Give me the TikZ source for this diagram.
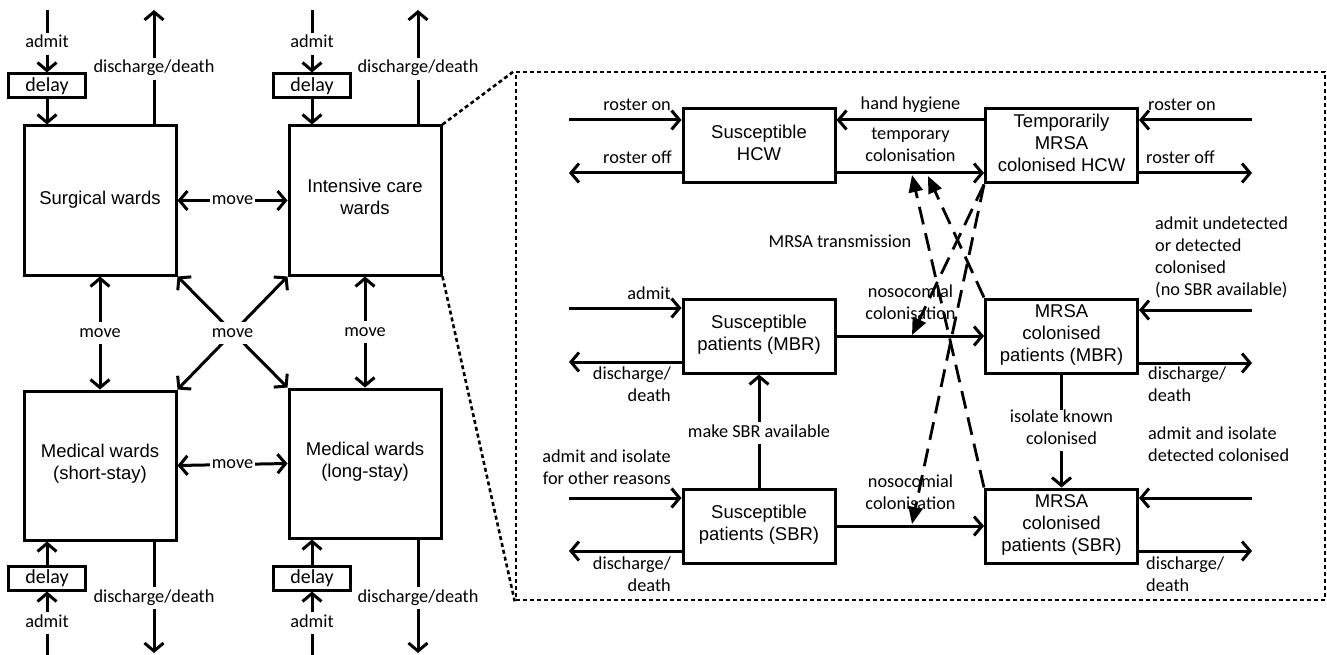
\documentclass[tikz,border=0pt]{standalone}
\usepackage{fontspec}
\setmainfont{Carlito}
\newfontfamily\arialfont{Liberation Sans}
\usetikzlibrary{arrows.meta}
\begin{document}
\begin{tikzpicture}[x=1pt,y=-1pt,
  >={Straight Barb[length=8pt,width=19pt]},
  thk/.style={line width=3pt},
  wbox/.style={draw, line width=3pt, font=\arialfont\fontsize{18.5}{22}\selectfont, align=center, inner sep=0pt, minimum width=152pt, execute at begin node=\strut, execute at end node=\strut},
  lbl/.style={font=\fontsize{18.3}{22}\selectfont, inner sep=0pt, execute at begin node=\strut, execute at end node=\strut},
  wl/.style={lbl, fill=white, inner xsep=2pt},
  dly/.style={draw, line width=3pt, font=\fontsize{20}{24}\selectfont, minimum width=77pt, minimum height=24pt, inner sep=0pt},
  dotframe/.style={line width=2.6pt, dash pattern=on 4pt off 3pt},
  mrsatr/.style={line width=2.8pt, dash pattern=on 18pt off 9pt, -{Triangle[length=17pt,width=14pt]}}
]
\useasboundingbox (0,0) rectangle (1327,655);

% ---------- left: wards ----------
\node[wbox, minimum height=149pt] (surg) at (100,200.5) {Surgical wards};
\node[wbox, minimum height=149pt] (icu) at (365,200.5) {Intensive care\\wards};
\node[wbox, minimum height=149pt] (short) at (100,465.5) {Medical wards\\(short-stay)};
\node[wbox, minimum height=149pt] (long) at (365,463.5) {Medical wards\\(long-stay)};

\node[dly] (sdl) at (47,86) {delay};
\node[dly] (idl) at (312,86) {delay};
\node[dly] (shdl) at (47,578) {delay};
\node[dly] (ldl) at (312,578) {delay};

\coordinate (sadm) at (47,10);
\coordinate (sdis) at (154,10);
\coordinate (iadm) at (312,10);
\coordinate (idis) at (418,10);
\coordinate (shadm) at (47,655);
\coordinate (shdis) at (154,653);
\coordinate (ladm) at (312,655);
\coordinate (ldis) at (418,653);

\draw[thk,->] (sadm) -- (sdl.north);
\draw[thk,->] (sdl.south) -- (sdl.south |- surg.north);
\draw[thk,->] (surg.north -| sdis) -- (sdis);
\draw[thk,->] (iadm) -- (idl.north);
\draw[thk,->] (idl.south) -- (idl.south |- icu.north);
\draw[thk,->] (icu.north -| idis) -- (idis);
\draw[thk,->] (shadm) -- (shdl.south);
\draw[thk,->] (shdl.north) -- (shdl.north |- short.south);
\draw[thk,->] (short.south -| shdis) -- (shdis);
\draw[thk,->] (ladm) -- (ldl.south);
\draw[thk,->] (ldl.north) -- (ldl.north |- long.south);
\draw[thk,->] (long.south -| ldis) -- (ldis);

\node[wl, anchor=base] (la1) at (47,48) {admit};
\node[wl, anchor=base] (ld1) at (154,73) {discharge/death};
\node[wl, anchor=base] (la2) at (312,48) {admit};
\node[wl, anchor=base] (ld2) at (418,73) {discharge/death};
\node[wl, anchor=base] (la3) at (47,627) {admit};
\node[wl, anchor=base] (ld3) at (154,602) {discharge/death};
\node[wl, anchor=base] (la4) at (312,627) {admit};
\node[wl, anchor=base] (ld4) at (418,602) {discharge/death};

\draw[thk,<->] (surg.east) -- node[wl] (mv1) {move} (icu.west);
\draw[thk,<->] (short.east) -- node[wl] (mv2) {move} (long.west);
\draw[thk,<->] (surg.south) -- node[wl] (mv3) {move} (short.north);
\draw[thk,<->] (icu.south) -- node[wl] (mv4) {move} (long.north);
\draw[thk,<->] (surg.south east) -- (long.north west);
\draw[thk,<->] (icu.south west) -- (short.north east);
\node[wl] (mv5) at (232.5,333) {move};

% ---------- zoom frame ----------
\node[draw, dotframe, minimum width=809pt, minimum height=528pt, inner sep=0pt] (frm) at (920.5,336) {};
\draw[dotframe] (icu.north east) -- (frm.north west);
\draw[dotframe] (icu.south east) -- (frm.south west);

% ---------- right: compartments ----------
\node[wbox, minimum height=74pt] (hcw) at (759,146) {Susceptible\\HCW};
\node[wbox, minimum height=74pt] (thcw) at (1061.5,146) {Temporarily\\MRSA\\colonised HCW};
\node[wbox, minimum height=74pt] (smbr) at (759,336) {Susceptible\\patients (MBR)};
\node[wbox, minimum height=74pt] (mmbr) at (1061.5,336) {MRSA\\colonised\\patients (MBR)};
\node[wbox, minimum height=74pt] (ssbr) at (759,526) {Susceptible\\patients (SBR)};
\node[wbox, minimum height=74pt] (msbr) at (1061.5,526) {MRSA\\colonised\\patients (SBR)};

\coordinate (rl1) at (569,120);
\coordinate (rl2) at (569,173);
\coordinate (rr1) at (1252,120);
\coordinate (rr2) at (1252,173);
\coordinate (ml1) at (569,308);
\coordinate (ml2) at (569,362);
\coordinate (mr1) at (1252,310);
\coordinate (mr2) at (1252,363);
\coordinate (sl1) at (569,498);
\coordinate (sl2) at (569,551);
\coordinate (sr1) at (1252,498);
\coordinate (sr2) at (1252,551);

\draw[thk,->] (rl1) -- (rl1 -| hcw.west);
\draw[thk,->] (hcw.west |- rl2) -- (rl2);
\draw[thk,->] (thcw.west |- rl1) -- (hcw.east |- rl1);
\draw[thk,->] (hcw.east |- rl2) -- (thcw.west |- rl2);
\draw[thk,->] (rr1) -- (thcw.east |- rr1);
\draw[thk,->] (thcw.east |- rr2) -- (rr2);

\draw[thk,->] (ml1) -- (ml1 -| smbr.west);
\draw[thk,->] (smbr.west |- ml2) -- (ml2);
\draw[thk,->] (smbr.east) -- (mmbr.west);
\draw[thk,->] (mr1) -- (mmbr.east |- mr1);
\draw[thk,->] (mmbr.east |- mr2) -- (mr2);

\draw[thk,->] (sl1) -- (sl1 -| ssbr.west);
\draw[thk,->] (ssbr.west |- sl2) -- (sl2);
\draw[thk,->] (ssbr.east) -- (msbr.west);
\draw[thk,->] (sr1) -- (msbr.east |- sr1);
\draw[thk,->] (msbr.east |- sr2) -- (sr2);

\draw[thk,->] (ssbr.north) -- (smbr.south);
\draw[thk,->] (mmbr.south) -- (msbr.north);

% dashed transmission arrows
\coordinate (tA) at (912,175);
\coordinate (tC) at (928,176);
\coordinate (tD) at (912,335);
\coordinate (tB) at (912,524);
\draw[mrsatr] (msbr.north west) -- (tA);
\draw[mrsatr] (mmbr.north west) -- (tC);
\draw[mrsatr] (thcw.south west) -- (tD);
\draw[mrsatr] (thcw.south west) -- (tB);

% labels
\node[lbl, anchor=base east] (t1) at (671,110.5) {roster on};
\node[lbl, anchor=base east] (t2) at (672,164) {roster off};
\node[lbl, anchor=base east] (t3) at (671,299) {admit};
\node[lbl, anchor=north east, align=right] (t4) at (671,366.6) {discharge/\\death};
\node[lbl, anchor=north east, align=right] (t5) at (671,449.6) {admit and isolate\\for other reasons};
\node[lbl, anchor=north east, align=right] (t6) at (671,556.6) {discharge/\\death};
\node[lbl, anchor=base] (t7) at (910.5,110) {hand hygiene};
\node[lbl, anchor=north, align=center] (t8) at (910.5,127.6) {temporary\\colonisation};
\node[lbl, anchor=north, align=center] (t9) at (910.5,284.6) {nosocomial\\colonisation};
\node[lbl, anchor=north, align=center] (t10) at (910.5,474.6) {nosocomial\\colonisation};
\node[lbl, anchor=base] (t11) at (840,247) {MRSA transmission};
\node[lbl, anchor=base west] (t12) at (1148,110.5) {roster on};
\node[lbl, anchor=base west] (t13) at (1146,163.5) {roster off};
\node[lbl, anchor=north west, align=left] (t14) at (1155,216.6) {admit undetected\\or detected\\colonised\\(no SBR available)};
\node[lbl, anchor=north west, align=left] (t15) at (1148,366.6) {discharge/\\death};
\node[wl, anchor=north, align=center] (t16) at (1061.5,409.6) {isolate known\\colonised};
\node[lbl, anchor=north west, align=left] (t17) at (1148,426.6) {admit and isolate\\detected colonised};
\node[lbl, anchor=north west, align=left] (t18) at (1146,556.6) {discharge/\\death};
\node[wl, anchor=base] (t19) at (759,437) {make SBR available};
\end{tikzpicture}
\end{document}
